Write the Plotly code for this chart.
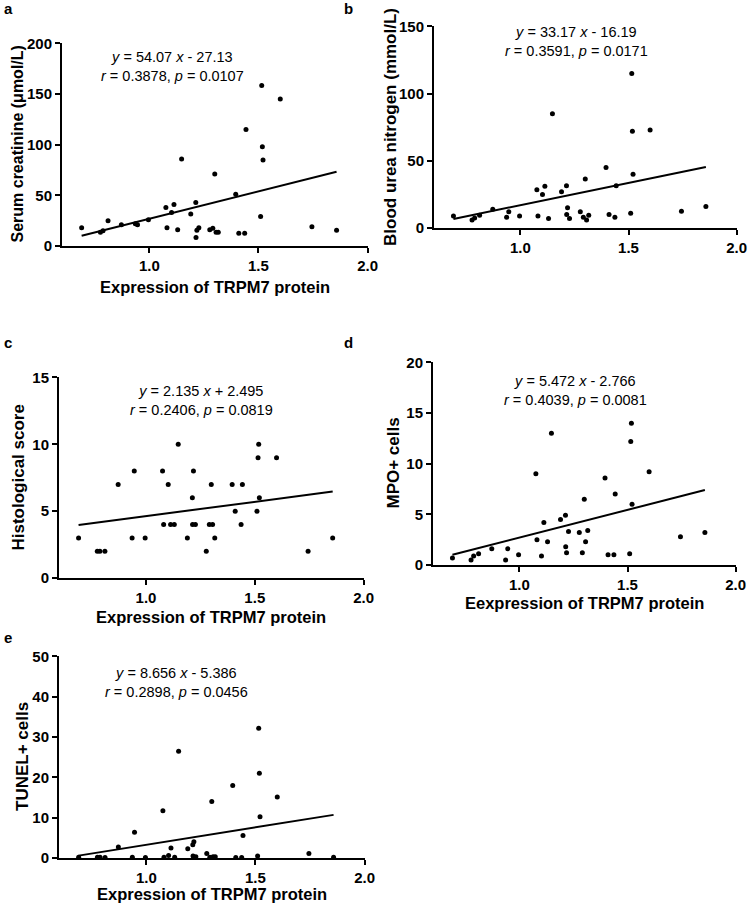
import plotly.graph_objects as go

# TRPM7 expression (shared x for all panels)
trpm7 = [0.69, 0.776, 0.788, 0.811, 0.872, 0.936, 0.946, 0.996, 1.076, 1.081,
         1.102, 1.113, 1.13, 1.148, 1.19, 1.213, 1.214, 1.218, 1.227, 1.277,
         1.291, 1.30, 1.306, 1.316, 1.396, 1.41, 1.437, 1.443, 1.51, 1.515,
         1.518, 1.521, 1.60, 1.745, 1.858]

creatinine = [18, 13.5, 15, 25, 21, 22, 21, 26, 38, 18,
              33, 41, 16, 86, 31.5, 43, 8.5, 15.5, 18, 16,
              17.5, 71, 13.5, 13.5, 51, 12.5, 12.5, 115, 29, 158.5,
              98, 85, 145, 19, 15.5]

bun = [9, 6, 7.5, 9.5, 14, 8, 12, 9, 28.5, 9,
       25, 31, 7, 85, 27, 31.5, 10, 15, 7, 12,
       8, 36.5, 6, 9.5, 45, 10, 8, 31.5, 11, 115,
       72, 40, 73, 12.5, 16]

histo = [3, 2, 2, 2, 7, 3, 8, 3, 8, 4,
         7, 4, 4, 10, 3, 6, 4, 8, 4, 2,
         4, 7, 4, 3, 7, 5, 4, 7, 5, 9,
         10, 6, 9, 2, 3]

mpo = [0.7, 0.5, 0.9, 1.1, 1.6, 0.5, 1.6, 1.0, 9.0, 2.5,
       0.9, 4.2, 2.3, 13.0, 4.5, 4.9, 1.8, 1.2, 3.3, 3.2,
       1.2, 6.5, 2.3, 3.4, 8.6, 1.0, 1.0, 7.0, 1.1, 12.2,
       14.0, 6.0, 9.2, 2.8, 3.2]

tunel = [0.2, 0.2, 0.2, 0.1, 2.7, 0.2, 6.4, 0.1, 11.7, 0.2,
         0.6, 2.5, 0.2, 26.5, 2.3, 3.3, 0.5, 4.0, 0.3, 1.1,
         0.2, 14.0, 0.3, 0.3, 18.0, 0.1, 0.1, 5.6, 0.5, 32.2,
         21.0, 10.2, 15.1, 1.1, 0.2]

# regression coefficients as printed on the figure
slopes = [54.07, 33.17, 2.135, 5.472, 8.656]
intercepts = [-27.13, -16.19, 2.495, -2.766, -5.386]
eq_text = [
    "<i>y</i> = 54.07 <i>x</i> - 27.13<br><i>r</i> = 0.3878, <i>p</i> = 0.0107",
    "<i>y</i> = 33.17 <i>x</i> - 16.19<br><i>r</i> = 0.3591, <i>p</i> = 0.0171",
    "<i>y</i> = 2.135 <i>x</i> + 2.495<br><i>r</i> = 0.2406, <i>p</i> = 0.0819",
    "<i>y</i> = 5.472 <i>x</i> - 2.766<br><i>r</i> = 0.4039, <i>p</i> = 0.0081",
    "<i>y</i> = 8.656 <i>x</i> - 5.386<br><i>r</i> = 0.2898, <i>p</i> = 0.0456",
]
y_titles = ["Serum creatinine (\u03bcmol/L)", "Blood urea nitrogen (mmol/L)",
            "Histological score", "MPO+ cells", "TUNEL+ cells"]
x_titles = ["Expression of TRPM7 protein", "",
            "Expression of TRPM7 protein", "Eexpression of TRPM7 protein",
            "Expression of TRPM7 protein"]
x_ticks = [1.0, 1.5, 2.0]
y_ticks = [
    [0, 50, 100, 150, 200],
    [0, 50, 100, 150],
    [0, 5, 10, 15],
    [0, 5, 10, 15, 20],
    [0, 10, 20, 30, 40, 50],
]
letters = ["a", "b", "c", "d", "e"]
series = [creatinine, bun, histo, mpo, tunel]

W, H = 750, 907
FONT = "Liberation Sans"

# pixel boxes of each plot area: left, right, top, bottom
boxes = [
    (62, 368, 43, 246),
    (434, 737, 26, 228),
    (59, 364, 377, 578),
    (433, 736, 362, 565),
    (59, 365, 656, 858),
]
xtitle_gap = [41, 0, 39, 38, 36]
eq_pos = [(172, 66), (576, 41), (202, 400), (575, 390), (176, 682)]
ytitle_x = [17, 390, 18, 393, 22]
ytitle_size = [16, 17, 17, 17, 17]
letter_pos = [(8, 9), (348, 9), (8, 342), (348, 342), (8, 637)]


def px(x):
    return x / W


def py(y):
    return 1 - y / H


fig = go.Figure()
annotations = []

x_lo, x_hi = min(trpm7), max(trpm7)
for i in range(5):
    n = "" if i == 0 else str(i + 1)
    l, r, t, b = boxes[i]
    fig.add_trace(go.Scatter(
        x=trpm7, y=series[i], mode="markers", xaxis="x" + n, yaxis="y" + n,
        marker=dict(color="black", size=5), cliponaxis=False, hoverinfo="skip"))
    fig.add_trace(go.Scatter(
        x=[x_lo, x_hi], y=[slopes[i] * x_lo + intercepts[i], slopes[i] * x_hi + intercepts[i]],
        mode="lines", xaxis="x" + n, yaxis="y" + n,
        line=dict(color="black", width=2), cliponaxis=False, hoverinfo="skip"))

    fig.layout["xaxis" + n] = dict(
        domain=[px(l), px(r)], range=[0.6, 2.002], anchor="y" + n,
        tickmode="array", tickvals=x_ticks, ticktext=["<b>%.1f</b>" % v for v in x_ticks],
    )
    top = y_ticks[i][-1]
    fig.layout["yaxis" + n] = dict(
        domain=[py(b), py(t)], range=[0, top * 1.002], anchor="x" + n,
        tickmode="array", tickvals=y_ticks[i], ticktext=["<b>%d</b>" % v for v in y_ticks[i]],
    )

    annotations.append(dict(
        text=eq_text[i], x=px(eq_pos[i][0]), y=py(eq_pos[i][1]), xref="paper", yref="paper",
        showarrow=False, xanchor="center", yanchor="middle", align="center",
        font=dict(family=FONT, size=14.5, color="black")))
    annotations.append(dict(
        text="<b>%s</b>" % y_titles[i], x=px(ytitle_x[i]), y=py((t + b) / 2),
        xref="paper", yref="paper",
        showarrow=False, textangle=-90, xanchor="center", yanchor="middle",
        font=dict(family=FONT, size=ytitle_size[i], color="black")))
    if x_titles[i]:
        annotations.append(dict(
            text="<b>%s</b>" % x_titles[i], x=px((l + r) / 2), y=py(b + xtitle_gap[i]),
            xref="paper", yref="paper", borderpad=0,
            showarrow=False, xanchor="center", yanchor="middle",
            font=dict(family=FONT, size=16.5, color="black")))
    annotations.append(dict(
        text="<b>%s</b>" % letters[i], x=px(letter_pos[i][0]), y=py(letter_pos[i][1]),
        xref="paper", yref="paper",
        showarrow=False, xanchor="center", yanchor="middle",
        font=dict(family=FONT, size=15, color="black")))

fig.update_layout(
    width=W, height=H, margin=dict(l=0, r=0, t=0, b=0),
    plot_bgcolor="white", paper_bgcolor="white", showlegend=False,
    font=dict(family=FONT, color="black"),
    annotations=annotations,
)
axis_style = dict(
    showline=True, linewidth=2, linecolor="black", ticks="outside", ticklen=5,
    tickwidth=2, tickcolor="black", showgrid=False, zeroline=False,
    tickfont=dict(family=FONT, size=15, color="black", weight="bold"),
    automargin=False, fixedrange=True,
)
fig.update_xaxes(**axis_style)
fig.update_yaxes(**axis_style)
# page body has a default 8px margin; drop it so the figure fills the window
fig.write_html("out.html", config={"displayModeBar": False},
               post_script="document.body.style.margin = '0';")
